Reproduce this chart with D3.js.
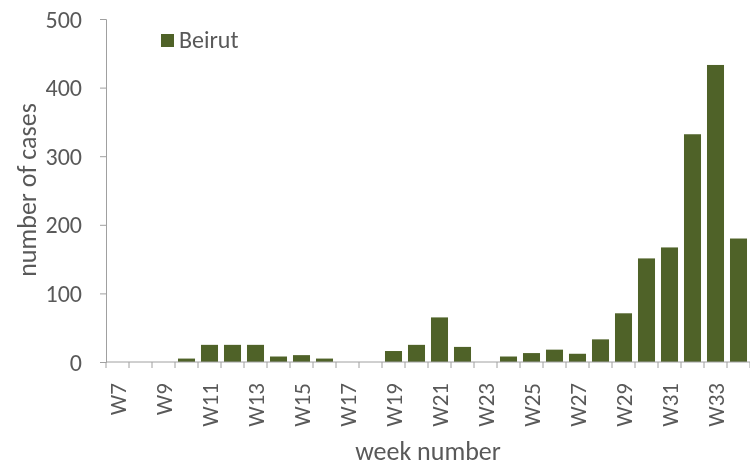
<!DOCTYPE html>
<meta charset="utf-8" />
<script src="https://d3js.org/d3.v7.min.js"></script>
<style>
  body { margin: 0; background: #fff; }
  svg { filter: blur(0.6px); }
  text { font-family: Carlito, Lato, "Open Sans", sans-serif; fill: #595959; }
</style>
<body>
  <div id="my_dataviz"></div>
</body>
<script>
  // weeks W7..W34
  var weeks = d3.range(7, 35).map(function (w) { return "W" + w; });
  var beirut = [0, 0, 0, 5, 25, 25, 25, 8, 10, 5, 0, 0, 16, 25, 65, 22,
                0, 8, 13, 18, 12, 33, 71, 151, 167, 332, 433, 180];
  var yTicks = [0, 100, 200, 300, 400, 500];
  var seriesName = "Beirut";

  var margin = { top: 19, right: 0, bottom: 106, left: 106 },
    width = 750 - margin.left - margin.right,
    height = 468 - margin.top - margin.bottom;

  var svg = d3
    .select("#my_dataviz")
    .append("svg")
    .attr("width", 750)
    .attr("height", 468)
    .append("g")
    .attr("transform", "translate(" + margin.left + "," + margin.top + ")");

  var x = d3.scaleBand().domain(weeks).range([0, width]).paddingInner(0.26).paddingOuter(0.13);
  var y = d3.scaleLinear().domain([0, 500]).range([height, 0]);

  // bars
  svg.selectAll("rect.bar")
    .data(beirut)
    .enter()
    .append("rect")
    .attr("class", "bar")
    .attr("x", function (d, i) { return x(weeks[i]); })
    .attr("y", function (d) { return y(d); })
    .attr("width", x.bandwidth())
    .attr("height", function (d) { return height - y(d); })
    .attr("fill", "#4f6228");

  // Y axis
  var yAxis = svg.append("g")
    .call(d3.axisLeft(y).tickValues(yTicks).tickSize(6).tickPadding(18));
  yAxis.select(".domain").attr("stroke", "#a0a0a0");
  yAxis.selectAll(".tick line").attr("stroke", "#a0a0a0");
  yAxis.selectAll("text").style("font-size", "24px").attr("fill", "#595959").attr("dy", "0.34em");

  // X axis: ticks at category boundaries
  var boundaries = d3.range(weeks.length + 1).map(function (i) { return i * width / weeks.length; });
  var xg = svg.append("g").attr("transform", "translate(0," + height + ")");
  xg.append("line")
    .attr("x1", 0).attr("x2", width)
    .attr("stroke", "#a0a0a0");
  xg.selectAll("line.tk")
    .data(boundaries)
    .enter()
    .append("line")
    .attr("class", "tk")
    .attr("x1", function (d) { return d; })
    .attr("x2", function (d) { return d; })
    .attr("y1", 0).attr("y2", 6)
    .attr("stroke", "#a0a0a0");
  xg.selectAll("text.lbl")
    .data(weeks.filter(function (d, i) { return i % 2 === 0; }))
    .enter()
    .append("text")
    .attr("class", "lbl")
    .attr("transform", function (d) {
      return "translate(" + (x(d) + x.bandwidth() / 2 + 8) + ",21) rotate(-90)";
    })
    .attr("text-anchor", "end")
    .style("font-size", "23px")
    .text(function (d) { return d; });

  // axis titles
  svg.append("text")
    .attr("x", width / 2)
    .attr("y", height + 98)
    .attr("text-anchor", "middle")
    .style("font-size", "26px")
    .text("week number");

  svg.append("text")
    .attr("transform", "translate(" + (-70) + "," + (190 - margin.top) + ") rotate(-90)")
    .attr("text-anchor", "middle")
    .style("font-size", "26px")
    .text("number of cases");

  // legend
  var legend = svg.append("g").attr("transform", "translate(55,15)");
  legend.append("rect")
    .attr("width", 13).attr("height", 13)
    .attr("fill", "#4f6228");
  legend.append("text")
    .attr("x", 18).attr("y", 14)
    .style("font-size", "24px")
    .text(seriesName);
</script>
